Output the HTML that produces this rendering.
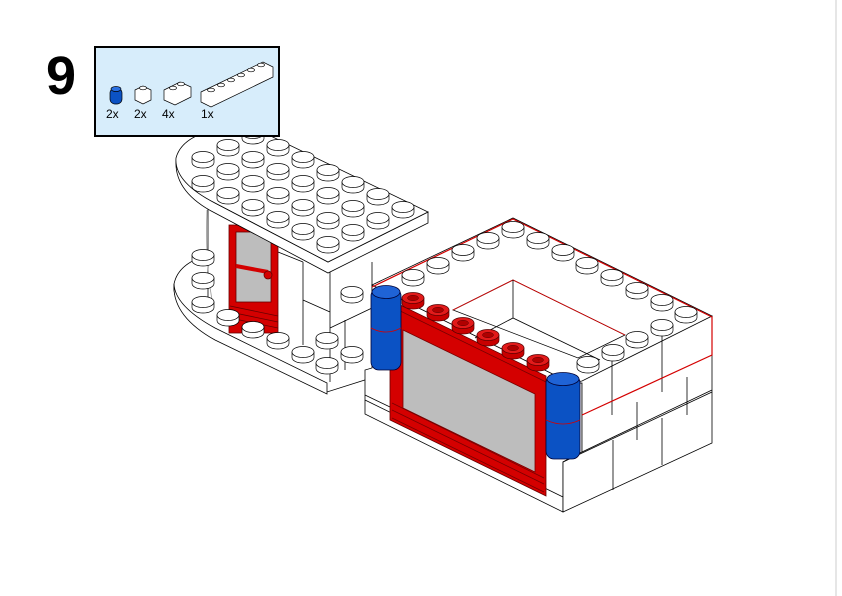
<!DOCTYPE html>
<html><head><meta charset="utf-8"><style>
html,body{margin:0;padding:0;background:#fff;width:842px;height:596px;overflow:hidden}
svg{display:block}
</style></head><body>
<svg width="842" height="596" viewBox="0 0 842 596" xmlns="http://www.w3.org/2000/svg" font-family="Liberation Sans, sans-serif">
<defs>
 <g id="s"><path d="M-11 0 v5.5 a11 5.5 0 0 0 22 0 v-5.5" fill="#fff" stroke="#000" stroke-width="0.7"/><ellipse rx="11" ry="5.5" fill="#fff" stroke="#000" stroke-width="0.7"/></g>
 <g id="r"><path d="M-11 0 v5.5 a11 5.5 0 0 0 22 0 v-5.5" fill="#c80000" stroke="#500" stroke-width="0.7"/><ellipse rx="11" ry="5.5" fill="#e21a1a" stroke="#500" stroke-width="0.7"/><ellipse rx="5.5" ry="2.7" fill="#b00000" stroke="#500" stroke-width="0.5"/></g>
</defs>
<line x1="836" y1="0" x2="836" y2="596" stroke="#e6e6e6" stroke-width="2"/>

<g stroke="#000" stroke-width="0.8" fill="#fff">
 <path d="M240 250 L390 322 L390 372 L327 392 L215 337 Q172 314 174 284 Q180 254 240 250 Z"/>
 <path d="M174 284 Q172 316 215 340 L327 394 L327 383 L215 328 Q175 306 174 284Z"/>
 <path d="M207 205 H330 L372 262 V330 L330 352 L303 345 L207 300Z" stroke="none"/>
 <path d="M208 205 V300 M303 262 V345 M330 270 V382 M330 328 L372 308 M303 300 L330 312 M372 262 V320 M278 252 L303 262 M345 320 V370" fill="none"/>
 <path d="M207 210 Q205 260 212 300" fill="none" stroke="#999"/>
 <rect x="229" y="225" width="49" height="108" fill="#d40000" stroke="#600"/>
 <rect x="236" y="232" width="35" height="70" fill="#bdbdbd" stroke="#600"/>
 <line x1="236" y1="266" x2="268" y2="272" stroke="#d40000" stroke-width="4"/>
 <circle cx="268" cy="275" r="4" fill="#d40000" stroke="#600"/>
 <path d="M230 306 L278 316 M230 312 L278 322 M230 318 L278 328" stroke="#600" fill="none"/>
 <path d="M176 160 Q174 192 215 213 L328 273 L428 223 L428 212 L328 262 L215 203 Q177 182 176 160Z"/>
 <path d="M250 126 L428 212 L328 262 L215 203 Q174 182 176 158 Q184 128 250 126 Z"/>
</g>
<g>
 <use href="#s" x="253" y="133"/><use href="#s" x="278" y="145"/><use href="#s" x="303" y="157"/><use href="#s" x="328" y="170"/><use href="#s" x="353" y="182"/><use href="#s" x="378" y="194"/><use href="#s" x="403" y="207"/>
 <use href="#s" x="228" y="145"/><use href="#s" x="253" y="157"/><use href="#s" x="278" y="169"/><use href="#s" x="303" y="181"/><use href="#s" x="328" y="193"/><use href="#s" x="353" y="206"/><use href="#s" x="378" y="218"/>
 <use href="#s" x="203" y="157"/><use href="#s" x="228" y="169"/><use href="#s" x="253" y="181"/><use href="#s" x="278" y="193"/><use href="#s" x="303" y="205"/><use href="#s" x="328" y="218"/><use href="#s" x="353" y="230"/>
 <use href="#s" x="203" y="181"/><use href="#s" x="228" y="193"/><use href="#s" x="253" y="205"/><use href="#s" x="278" y="217"/><use href="#s" x="303" y="229"/><use href="#s" x="328" y="242"/>
 <use href="#s" x="203" y="255"/><use href="#s" x="203" y="278"/><use href="#s" x="203" y="302"/><use href="#s" x="228" y="315"/><use href="#s" x="253" y="327"/><use href="#s" x="278" y="338"/><use href="#s" x="303" y="352"/><use href="#s" x="327" y="338"/><use href="#s" x="327" y="363"/><use href="#s" x="352" y="292"/><use href="#s" x="352" y="352"/>
</g>

<g stroke="#000" stroke-width="0.8" fill="#fff">
 <path d="M372 285 L571 383 L582 383 L582 452 L563 462 L563 512 L365 414 L365 370 L372 368Z"/>
 <path d="M571 383 L712 316 L712 443 L563 512 L563 462 L582 452 L582 383Z"/>
 <path d="M372 285 L513 218 L712 316 L582 381 L571 383Z"/>
 <path d="M513 280 L625 335 L578 358 L453 310Z" fill="#fff"/>
 <path d="M453 310 L513 280 L625 335" fill="none" stroke="#d40000"/>
 <path d="M513 280 V318 M475 338 L513 318 L600 360" fill="none"/>
 <path d="M582 452 L712 390 M563 462 L712 392 M365 395 L390 407 M365 400 L563 497 M612 352 V415 M662 328 V392 M637 402 V440 M687 377 V415 M613 440 V490 M662 418 V465" fill="none"/>
 <path d="M372 287 L513 219 L712 317 L712 355 L582 415" fill="none" stroke="#d40000" stroke-width="1.2"/>
 <path d="M390 300 L546 376 L546 496 L390 420Z" fill="#d40000" stroke="#600"/>
 <path d="M403 330 L535 394 L535 472 L403 408Z" fill="#bdbdbd" stroke="#700"/>
 <path d="M392 418 L544 492 M392 410 L544 484 M392 403 L544 478 M390 306 L546 382" stroke="#700" fill="none"/>
 <rect x="371" y="288" width="30" height="82" rx="8" fill="#0b52c4" stroke="#003"/>
 <path d="M371 328 q15 8 30 0" stroke="#d40000" fill="none"/>
 <rect x="546" y="375" width="34" height="84" rx="8" fill="#0b52c4" stroke="#003"/>
 <path d="M546 420 q17 8 34 0" stroke="#d40000" fill="none"/>
</g>
<g>
 <use href="#s" x="413" y="275"/><use href="#s" x="438" y="263"/><use href="#s" x="463" y="250"/><use href="#s" x="488" y="238"/><use href="#s" x="513" y="227"/>
 <use href="#s" x="538" y="238"/><use href="#s" x="563" y="250"/><use href="#s" x="587" y="263"/><use href="#s" x="612" y="275"/><use href="#s" x="637" y="288"/><use href="#s" x="662" y="300"/><use href="#s" x="686" y="312"/>
 <use href="#s" x="662" y="325"/><use href="#s" x="637" y="337"/><use href="#s" x="613" y="350"/><use href="#s" x="588" y="362"/>
 <use href="#r" x="413" y="298"/><use href="#r" x="438" y="310"/><use href="#r" x="463" y="323"/><use href="#r" x="488" y="335"/><use href="#r" x="513" y="348"/><use href="#r" x="538" y="360"/>
</g>
<ellipse cx="386" cy="292" rx="14" ry="6.5" fill="#1f63d6" stroke="#003" stroke-width="0.8"/>
<ellipse cx="563" cy="379" rx="16" ry="6.5" fill="#1f63d6" stroke="#003" stroke-width="0.8"/>

<text x="46" y="94" font-size="54" font-weight="bold">9</text>
<rect x="95" y="47" width="184" height="89" fill="#d7edfb" stroke="#000" stroke-width="2"/>
<g stroke="#000" stroke-width="0.7">
 <rect x="110" y="88" width="12" height="16" rx="5" fill="#0b52c4"/>
 <ellipse cx="116" cy="89" rx="5" ry="2.5" fill="#2a6fe0"/>
 <path d="M135 90 l8-4 8 4 v10 l-8 4 -8-4z" fill="#fff"/>
 <ellipse cx="143" cy="88" rx="3.5" ry="1.8" fill="#fff"/>
 <path d="M164 90 l16-8 11 5 v10 l-16 8 -11-5z" fill="#fff"/>
 <ellipse cx="173" cy="88" rx="3.5" ry="1.8" fill="#fff"/><ellipse cx="181" cy="84" rx="3.5" ry="1.8" fill="#fff"/>
 <path d="M201 92 l62-30 10 5 v10 l-62 30 -10-5z" fill="#fff"/>
 <ellipse cx="211" cy="90" rx="3.5" ry="1.8" fill="#fff"/><ellipse cx="221" cy="85" rx="3.5" ry="1.8" fill="#fff"/><ellipse cx="231" cy="80" rx="3.5" ry="1.8" fill="#fff"/><ellipse cx="241" cy="75" rx="3.5" ry="1.8" fill="#fff"/><ellipse cx="251" cy="70" rx="3.5" ry="1.8" fill="#fff"/><ellipse cx="261" cy="65" rx="3.5" ry="1.8" fill="#fff"/>
</g>
<g font-size="12"><text x="106" y="118">2x</text><text x="134" y="118">2x</text><text x="162" y="118">4x</text><text x="201" y="118">1x</text></g>
</svg>
</body></html>
